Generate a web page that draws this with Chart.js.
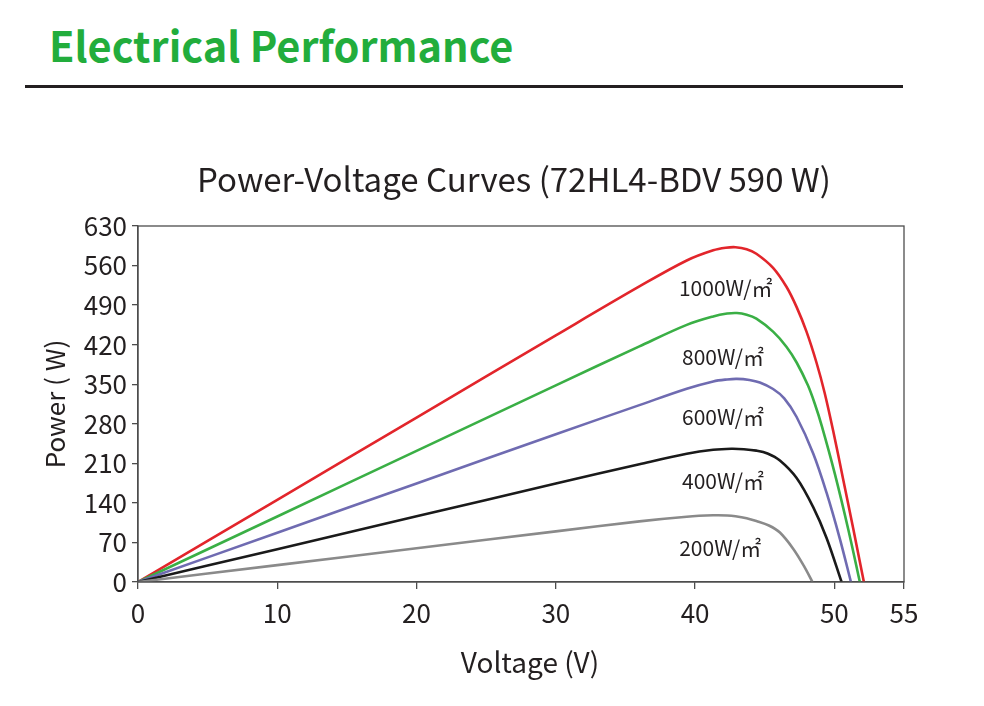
<!DOCTYPE html>
<html>
<head>
<meta charset="utf-8">
<script src="https://cdn.jsdelivr.net/npm/chart.js@4/dist/chart.umd.min.js"></script>
<style>
  html, body { margin: 0; padding: 0; background: #ffffff; }
  body { width: 984px; height: 706px; position: relative; overflow: hidden; font-family: "Noto Sans CJK SC", "Noto Sans", sans-serif; }
  #head { position: absolute; left: 49px; top: 20px; font-size: 41.5px; font-weight: 700; color: #22ad3c; line-height: 1.2; white-space: nowrap; }
  #rule { position: absolute; left: 25px; top: 85px; width: 878px; height: 3px; background: #231f20; }
  #wrap { position: absolute; left: 0; top: 0; width: 984px; height: 706px; }
</style>
</head>
<body>
<div id="head">Electrical Performance</div>
<div id="rule"></div>
<div id="wrap"><canvas id="c" width="984" height="706"></canvas></div>
<script>
// ---- data ----
const chartTitle = 'Power-Voltage Curves (72HL4-BDV 590 W)';
const xTitle = 'Voltage (V)';
const yTitle = 'Power ( W)';
const seriesNames = ['1000W/㎡', '800W/㎡', '600W/㎡', '400W/㎡', '200W/㎡'];

const v1000 = [0, 10, 20, 30, 36, 39.4, 41.3, 42.2, 42.9, 43.7, 44.4, 45.6, 46.57, 47.3, 48.0, 48.72, 49.3, 49.91, 50.63, 51.35, 52.12];
const p1000 = [0, 145.5, 291, 436.5, 523, 569, 587, 591.5, 592.5, 589, 581, 556, 522, 486, 443, 388, 335, 268, 182, 95, 0];

const v800 = [0, 10, 20, 30, 36, 39.4, 41.3, 42.3, 43.0, 43.7, 44.4, 45.6, 46.57, 47.3, 48.1, 48.6, 49.1, 50.04, 51.0, 51.83];
const p800 = [0, 116, 232, 348, 417, 455, 470, 475, 476, 473, 466, 443, 416, 388, 348, 315, 276, 191, 93, 0];

const v600 = [0, 10, 20, 30, 36, 39.4, 41.3, 42.3, 43.0, 43.9, 44.65, 45.6, 46.4, 47.29, 48.48, 49.44, 50.4, 51.19];
const p600 = [0, 87.2, 174.4, 261.6, 313, 342, 355, 358.5, 359.5, 357.5, 353, 341.5, 325, 292, 227.5, 158, 76, 0];

const v400 = [0, 10, 20, 30, 36, 39.4, 41.3, 42.6, 43.5, 44.4, 45.2, 46.09, 47.29, 48.48, 49.44, 50.52];
const p400 = [0, 58.1, 116.2, 174.3, 208.5, 227, 234, 235.8, 235, 232.5, 227.5, 215, 184, 132.5, 78, 0];

const v200 = [0, 10, 20, 30, 36, 39.4, 41.3, 42.3, 42.9, 43.7, 44.4, 45.3, 46.09, 47.04, 47.8, 48.43];
const p200 = [0, 29.9, 59.7, 89.6, 107.3, 115.5, 118, 117.8, 116.5, 113, 108, 100, 87.5, 59, 29, 0];

const xTicks = [0, 10, 20, 30, 40, 50, 55];
const yTicks = [0, 70, 140, 210, 280, 350, 420, 490, 560, 630];

// ---- build ----
const FONT = '"Noto Sans CJK SC", "Noto Sans", sans-serif';
const TXT = '#231f20';
const AX = '#4d4d4d';

function pts(v, p) { return v.map((x, i) => ({ x: x, y: p[i] })); }

const colors = ['#e2252b', '#3aaf45', '#6f6bb1', '#1a1a1a', '#8a8a8a'];
const vs = [v1000, v800, v600, v400, v200];
const ps = [p1000, p800, p600, p400, p200];

const datasets = seriesNames.map((n, i) => ({
  label: n,
  data: pts(vs[i], ps[i]),
  showLine: true,
  borderColor: colors[i],
  backgroundColor: colors[i],
  borderWidth: 2.6,
  pointRadius: 0,
  tension: 0.35,
  fill: false,
  order: 4 - i
}));

// curve labels, anchored in data units
const curveLabelAnchors = [[42.2, 520], [42.0, 398], [42.0, 292], [42.0, 178], [41.8, 61]];

const boxPlugin = {
  id: 'boxPlugin',
  afterDatasetsDraw(chart) {
    const { ctx, chartArea: a } = chart;
    ctx.save();
    ctx.strokeStyle = AX;
    ctx.lineWidth = 1.3;
    ctx.strokeRect(a.left, a.top, a.right - a.left, a.bottom - a.top);
    ctx.restore();
  }
};

const textPlugin = {
  id: 'textPlugin',
  afterDraw(chart) {
    const { ctx, scales, chartArea: a } = chart;
    ctx.save();
    ctx.fillStyle = TXT;
    ctx.textAlign = 'center';
    ctx.textBaseline = 'middle';
    ctx.font = '21px ' + FONT;
    seriesNames.forEach((n, i) => {
      const [vx, py] = curveLabelAnchors[i];
      ctx.fillText(n, scales.x.getPixelForValue(vx), scales.y.getPixelForValue(py));
    });
    ctx.font = '33px ' + FONT;
    ctx.fillText(chartTitle, 514, a.top - 47);
    ctx.font = '28px ' + FONT;
    ctx.fillText(xTitle, 530, 662);
    ctx.restore();
  }
};

new Chart(document.getElementById('c'), {
  type: 'scatter',
  data: { datasets },
  options: {
    responsive: false,
    animation: false,
    devicePixelRatio: 1,
    layout: { padding: { left: 40, right: 80, top: 226, bottom: 27 } },
    plugins: {
      legend: { display: false },
      tooltip: { enabled: false },
      title: { display: false }
    },
    scales: {
      x: {
        type: 'linear',
        min: 0, max: 55,
        afterBuildTicks(s) { s.ticks = xTicks.map(v => ({ value: v })); },
        afterFit(s) { s.height = 706 - 27 - 582; },
        ticks: { color: TXT, font: { family: FONT, size: 26 }, padding: 9, maxRotation: 0, autoSkip: false },
        grid: { display: true, drawOnChartArea: false, drawTicks: true, tickLength: 7, color: AX, lineWidth: 1.3 },
        border: { display: true, color: AX, width: 1.3 },
        title: { display: false }
      },
      y: {
        type: 'linear',
        min: 0, max: 630,
        afterBuildTicks(s) { s.ticks = yTicks.map(v => ({ value: v })); },
        afterFit(s) { s.width = 138 - 40; },
        ticks: { color: TXT, font: { family: FONT, size: 26 }, padding: 5, autoSkip: false },
        grid: { display: true, drawOnChartArea: false, drawTicks: true, tickLength: 6, color: AX, lineWidth: 1.3 },
        border: { display: true, color: AX, width: 1.3 },
        title: { display: true, text: yTitle, color: TXT, font: { family: FONT, size: 26 }, padding: { top: 0, bottom: 0 } }
      }
    }
  },
  plugins: [boxPlugin, textPlugin]
});
</script>
</body>
</html>
